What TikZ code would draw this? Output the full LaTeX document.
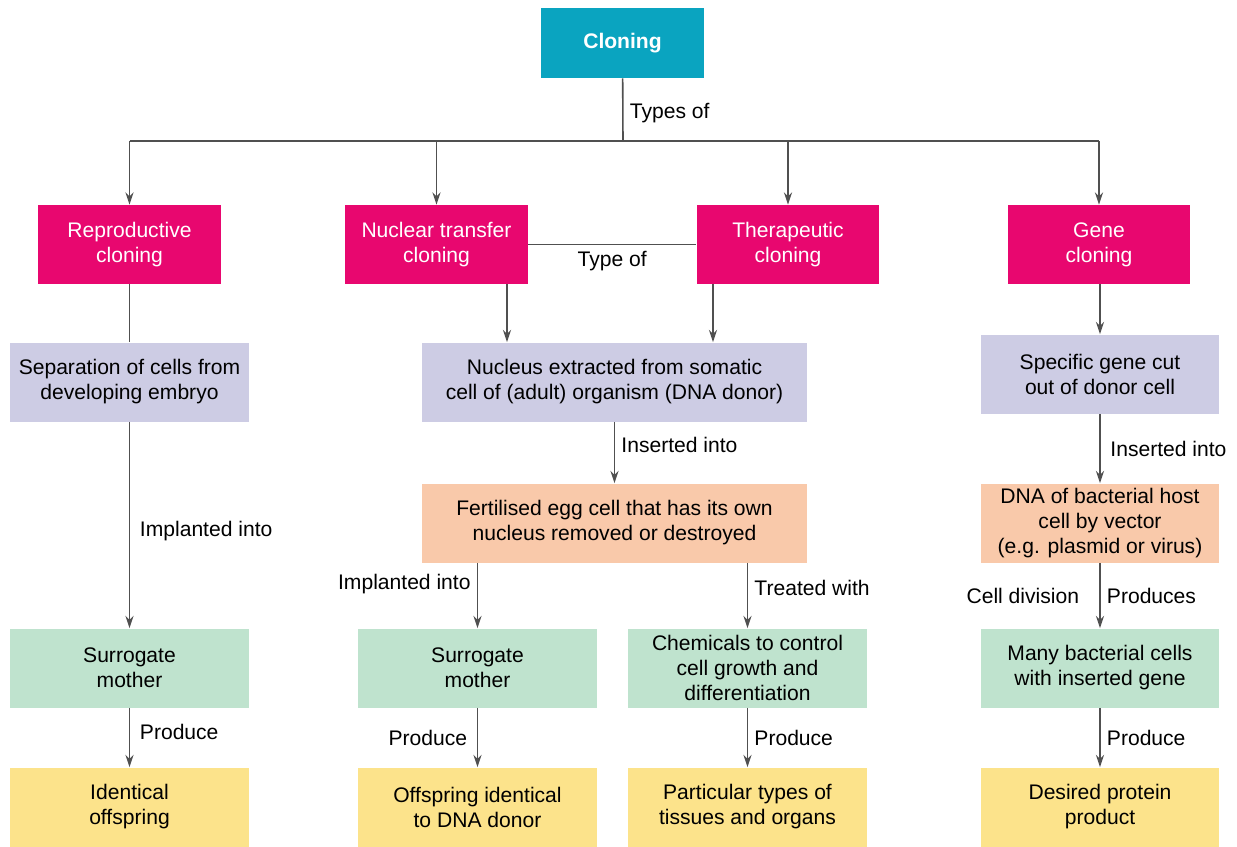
\documentclass[tikz,border=0pt]{standalone}
\usepackage{fontspec}
\setmainfont{Liberation Sans}
\usepackage{xcolor}
\usetikzlibrary{arrows.meta, positioning}

\definecolor{cloningteal}{HTML}{0AA4C0}
\definecolor{typepink}{HTML}{E8076F}
\definecolor{stepviolet}{HTML}{CDCCE4}
\definecolor{eggsalmon}{HTML}{F9C9AA}
\definecolor{hostmint}{HTML}{BFE3CE}
\definecolor{resultyellow}{HTML}{FCE38B}
\definecolor{linegray}{HTML}{505050}

\begin{document}
\begin{tikzpicture}[
  x=0.02cm, y=-0.02cm,
  box/.style={rectangle, minimum width=4.78cm, minimum height=1.58cm, align=center, inner sep=0pt, font=\fontsize{12}{14.2}\selectfont},
  topbox/.style={box, fill=cloningteal, text=white, minimum width=3.26cm, minimum height=1.4cm},
  typebox/.style={box, fill=typepink, text=white, minimum width=3.66cm},
  stepbox/.style={box, fill=stepviolet},
  eggbox/.style={box, fill=eggsalmon},
  hostbox/.style={box, fill=hostmint},
  resultbox/.style={box, fill=resultyellow},
  conn/.style={draw=linegray, line width=0.9pt},
  arrow/.style={conn, -{Stealth[length=7pt, width=4.6pt]}},
  lbl/.style={font=\fontsize{12}{14.2}\selectfont, inner sep=3.5pt}
]
\useasboundingbox (0,0) rectangle (1237,846);

% top level
\node[topbox] (cloning) at (622.5,43) {\textbf{Cloning}};
\node[typebox] (repro) at (129.5,244.5) {Reproductive\\cloning};
\node[typebox] (nuclear) at (436.5,244.5) {Nuclear transfer\\cloning};
\node[typebox] (thera) at (788,244.5) {Therapeutic\\cloning};
\node[typebox] (gene) at (1099,244.5) {Gene\\cloning};

% second and third rows
\node[stepbox] (separation) at (129.5,382) {Separation of cells from\\developing embryo};
\node[stepbox, minimum width=7.7cm] (nucleus) at (614.5,382) {Nucleus extracted from somatic\\cell of (adult) organism (DNA donor)};
\node[stepbox] (specific) at (1100,374) {Specific gene cut\\out of donor cell};
\node[eggbox, minimum width=7.7cm] (fertilised) at (614.5,523) {Fertilised egg cell that has its own\\nucleus removed or destroyed};
\node[eggbox] (host) at (1100,523) {DNA of bacterial host\\cell by vector\\(e.g. plasmid or virus)};

% fourth row
\node[hostbox] (surrogateA) at (129.5,668) {Surrogate\\mother};
\node[hostbox] (surrogateB) at (477.5,668) {Surrogate\\mother};
\node[hostbox] (chemicals) at (747.5,668) {Chemicals to control\\cell growth and\\differentiation};
\node[hostbox] (bacteria) at (1100,668) {Many bacterial cells\\with inserted gene};

% results
\node[resultbox] (identical) at (129.5,807) {Identical\\offspring};
\node[resultbox] (offspring) at (477.5,807) {Offspring identical\\to DNA donor};
\node[resultbox] (tissues) at (747.5,807) {Particular types of\\tissues and organs};
\node[resultbox] (protein) at (1100,807) {Desired protein\\product};

% branching
\coordinate (split) at (623,141);
\draw[conn] (cloning) -- node[lbl, right, pos=0.55] {Types of} (split);
\draw[conn] (repro.north |- split) -- (gene.north |- split);
\foreach \n in {repro, nuclear, thera, gene}
  \draw[arrow] (\n.north |- split) -- (\n.north);
\draw[conn] (nuclear) -- node[lbl, below] {Type of} (thera);

% reproductive
\draw[conn] (repro) -- (separation);
\draw[arrow] (separation) -- node[lbl, right, pos=0.53, xshift=2pt] {Implanted into} (surrogateA);
\draw[arrow] (surrogateA) -- node[lbl, right, pos=0.4, xshift=2pt] {Produce} (identical);

% nuclear transfer / therapeutic
\draw[arrow] ([xshift=1.41cm]nuclear.south) -- ([xshift=1.41cm]nuclear.south |- nucleus.north);
\draw[arrow] ([xshift=-1.5cm]thera.south) -- ([xshift=-1.5cm]thera.south |- nucleus.north);
\draw[arrow] (nucleus) -- node[lbl, right, pos=0.38] {Inserted into} (fertilised);
\draw[arrow] (fertilised.south -| surrogateB) -- node[lbl, left, pos=0.33] {Implanted into} (surrogateB);
\draw[arrow] (fertilised.south -| chemicals) -- node[lbl, right, pos=0.39] {Treated with} (chemicals);
\draw[arrow] (surrogateB) -- node[lbl, left, xshift=-2pt] {Produce} (offspring);
\draw[arrow] (chemicals) -- node[lbl, right] {Produce} (tissues);

% gene cloning
\draw[arrow] (gene.south -| specific) -- (specific);
\draw[arrow] (specific) -- node[lbl, right, xshift=2pt] {Inserted into} (host);
\draw[arrow] (host) -- node[lbl, left, xshift=-0.28cm] {Cell division} node[lbl, right] {Produces} (bacteria);
\draw[arrow] (bacteria) -- node[lbl, right] {Produce} (protein);
\end{tikzpicture}
\end{document}
